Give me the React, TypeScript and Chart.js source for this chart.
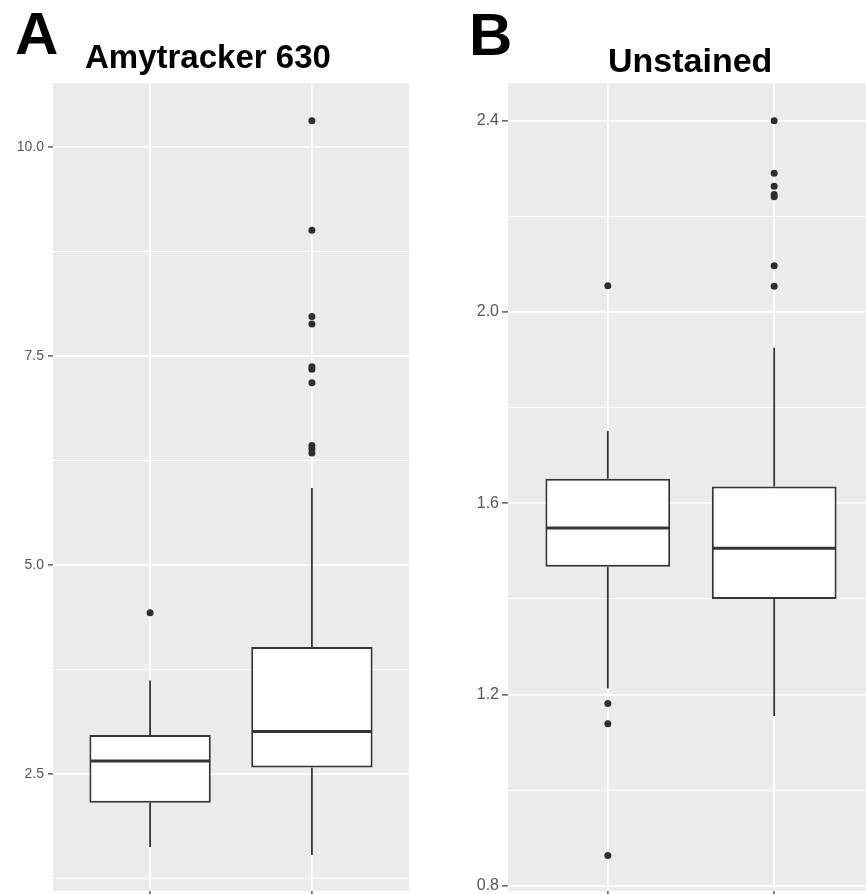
import React, { useEffect, useRef } from 'react';
import { Chart, registerables } from 'chart.js';

Chart.register(...registerables);

const FONT = "'Liberation Sans', Arial, Helvetica, sans-serif";

// x categories (their tick labels are cropped in the reference)
const categories = ['', ''];
const groupX = [1, 2];

// Panel A: Amytracker 630
const aLower = [1.63, 1.535];
const aQ1 = [2.16, 2.58];
const aMedian = [2.66, 3.01];
const aQ3 = [2.97, 4.02];
const aUpper = [3.62, 5.92];
const aOutliers1 = [4.43];
const aOutliers2 = [10.31, 9.0, 7.97, 7.88, 7.37, 7.34, 7.18, 6.43, 6.39, 6.34];
const aMajorTicks = [2.5, 5.0, 7.5, 10.0];
const aMinorTicks = [1.25, 3.75, 6.25, 8.75];

// Panel B: Unstained
const bLower = [1.2125, 1.155];
const bQ1 = [1.467, 1.4];
const bMedian = [1.548, 1.506];
const bQ3 = [1.651, 1.635];
const bUpper = [1.751, 1.925];
const bOutliers1 = [2.055, 1.181, 1.139, 0.8635];
const bOutliers2 = [2.4, 2.29, 2.263, 2.246, 2.241, 2.097, 2.054];
const bMajorTicks = [0.8, 1.2, 1.6, 2.0, 2.4];
const bMinorTicks = [1.0, 1.4, 1.8, 2.2];

type PanelSpec = {
  lower: number[];
  q1: number[];
  median: number[];
  q3: number[];
  upper: number[];
  outliers: number[][];
  majors: number[];
  minors: number[];
  yMin: number;
  yMax: number;
  xMax: number;
  yAxisWidth: number;
  padRight: number;
  fontSize: number;
  tickLength: number;
  tickPadding: number;
};

const LINE = '#363636';

const near = (arr: number[], v: number) => arr.some((m) => Math.abs(m - v) < 1e-9);

function makeBoxPlugin(spec: PanelSpec) {
  return {
    id: 'boxExtras',
    beforeDraw(chart: any) {
      const { ctx, chartArea: a } = chart;
      ctx.save();
      ctx.fillStyle = '#EBEBEB';
      ctx.fillRect(a.left, a.top, a.right - a.left, a.bottom - a.top);
      ctx.restore();
    },
    afterDatasetsDraw(chart: any) {
      const { ctx } = chart;
      const ys = chart.scales.y;
      const meta = chart.getDatasetMeta(0);
      ctx.save();
      ctx.strokeStyle = LINE;
      ctx.lineCap = 'butt';
      meta.data.forEach((bar: any, i: number) => {
        const { x, width } = bar.getProps(['x', 'width'], true);
        ctx.lineWidth = 1.8;
        ctx.beginPath();
        ctx.moveTo(x, ys.getPixelForValue(spec.q3[i]));
        ctx.lineTo(x, ys.getPixelForValue(spec.upper[i]));
        ctx.moveTo(x, ys.getPixelForValue(spec.q1[i]));
        ctx.lineTo(x, ys.getPixelForValue(spec.lower[i]));
        ctx.stroke();
        const ym = ys.getPixelForValue(spec.median[i]);
        ctx.lineWidth = 3;
        ctx.beginPath();
        ctx.moveTo(x - width / 2 + 1, ym);
        ctx.lineTo(x + width / 2 - 1, ym);
        ctx.stroke();
      });
      ctx.restore();
    },
  };
}

function buildConfig(spec: PanelSpec): any {
  const outlierPoints: { x: number; y: number }[] = [];
  spec.outliers.forEach((list, g) => list.forEach((v) => outlierPoints.push({ x: groupX[g], y: v })));
  return {
    type: 'bar',
    data: {
      datasets: [
        {
          type: 'bar',
          data: groupX.map((x, i) => ({ x, y: [spec.q1[i], spec.q3[i]] })),
          backgroundColor: '#FFFFFF',
          borderColor: LINE,
          borderWidth: 2,
          borderSkipped: false,
          categoryPercentage: 1,
          barPercentage: 0.75,
        },
        {
          type: 'scatter',
          data: outlierPoints,
          backgroundColor: '#2E2E2E',
          borderWidth: 0,
          pointRadius: 3.5,
          pointHoverRadius: 3.5,
        },
      ],
    },
    options: {
      responsive: false,
      maintainAspectRatio: false,
      animation: false,
      events: [],
      layout: { padding: { top: 83, right: spec.padRight, bottom: 0, left: 0 } },
      plugins: { legend: { display: false }, tooltip: { enabled: false }, title: { display: false } },
      scales: {
        x: {
          type: 'linear',
          min: 0.4,
          max: spec.xMax,
          offset: false,
          afterBuildTicks: (s: any) => {
            s.ticks = groupX.map((v) => ({ value: v }));
          },
          afterFit: (s: any) => {
            s.height = 9;
            s.paddingLeft = 0;
            s.paddingRight = 0;
          },
          ticks: {
            autoSkip: false,
            maxRotation: 0,
            callback: (v: number) => categories[groupX.indexOf(v)] ?? '',
          },
          grid: {
            offset: false,
            color: '#FFFFFF',
            lineWidth: 1.8,
            tickColor: '#333333',
            tickLength: 5,
            tickWidth: 1.2,
          },
          border: { display: false },
        },
        y: {
          type: 'linear',
          min: spec.yMin,
          max: spec.yMax,
          beginAtZero: false,
          afterBuildTicks: (s: any) => {
            s.ticks = [...spec.majors, ...spec.minors].sort((a, b) => a - b).map((v) => ({ value: v }));
          },
          afterFit: (s: any) => {
            s.width = spec.yAxisWidth;
            s.paddingTop = 0;
            s.paddingBottom = 0;
          },
          ticks: {
            autoSkip: false,
            color: '#555555',
            padding: spec.tickPadding,
            font: { family: FONT, size: spec.fontSize },
            callback: (v: number) => (near(spec.majors, v) ? Number(v).toFixed(1) : ''),
          },
          grid: {
            color: '#FFFFFF',
            lineWidth: (c: any) => (c.tick && near(spec.minors, c.tick.value) ? 0.9 : 1.8),
            tickColor: (c: any) => (c.tick && near(spec.minors, c.tick.value) ? 'rgba(0,0,0,0)' : '#333333'),
            tickLength: spec.tickLength,
            tickWidth: 1.2,
          },
          border: { display: false },
        },
      },
    },
    plugins: [makeBoxPlugin(spec)],
  };
}

const specA: PanelSpec = {
  lower: aLower,
  q1: aQ1,
  median: aMedian,
  q3: aQ3,
  upper: aUpper,
  outliers: [aOutliers1, aOutliers2],
  majors: aMajorTicks,
  minors: aMinorTicks,
  yMin: 1.105,
  yMax: 10.761,
  xMax: 2.6,
  yAxisWidth: 53,
  padRight: 11,
  fontSize: 14,
  tickLength: 5,
  tickPadding: 4,
};

const specB: PanelSpec = {
  lower: bLower,
  q1: bQ1,
  median: bMedian,
  q3: bQ3,
  upper: bUpper,
  outliers: [bOutliers1, bOutliers2],
  majors: bMajorTicks,
  minors: bMinorTicks,
  yMin: 0.789,
  yMax: 2.479,
  xMax: 2.6,
  yAxisWidth: 68,
  padRight: 10,
  fontSize: 16,
  tickLength: 6,
  tickPadding: 3,
};

function Panel({ spec, left, width, height }: { spec: PanelSpec; left: number; width: number; height: number }) {
  const ref = useRef<HTMLCanvasElement | null>(null);
  useEffect(() => {
    if (!ref.current) return;
    const chart = new Chart(ref.current, buildConfig(spec));
    return () => chart.destroy();
  }, [spec]);
  return (
    <canvas
      ref={ref}
      width={width}
      height={height}
      style={{ position: 'absolute', left, top: 0, width, height, display: 'block' }}
    />
  );
}

const textBase: React.CSSProperties = {
  position: 'absolute',
  fontFamily: FONT,
  fontWeight: 'bold',
  lineHeight: 1,
  color: '#000',
  whiteSpace: 'nowrap',
};

export default function App() {
  return (
    <div
      style={{
        position: 'absolute',
        left: 0,
        top: 0,
        width: 866,
        height: 894,
        overflow: 'hidden',
        background: '#FFFFFF',
      }}
    >
      <Panel spec={specA} left={0} width={420} height={900} />
      <Panel spec={specB} left={440} width={444} height={900} />
      <div style={{ ...textBase, left: 15, top: 4, fontSize: 60 }}>A</div>
      <div style={{ ...textBase, left: 469, top: 5, fontSize: 60 }}>B</div>
      <div style={{ ...textBase, left: 85, top: 39.5, fontSize: 33 }}>Amytracker 630</div>
      <div style={{ ...textBase, left: 608, top: 43, fontSize: 34 }}>Unstained</div>
    </div>
  );
}
